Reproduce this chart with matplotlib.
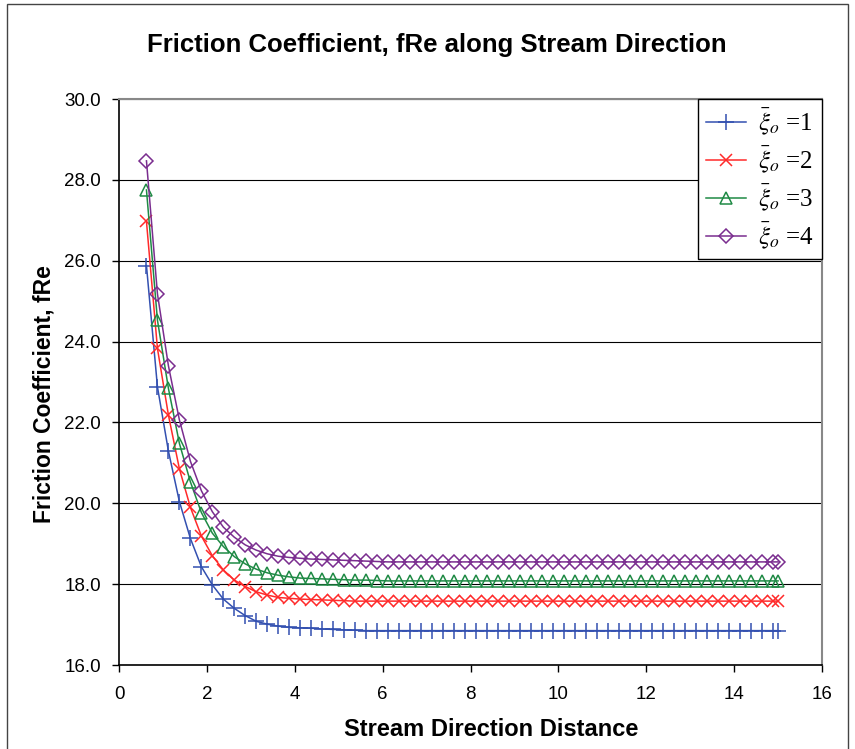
import matplotlib
matplotlib.use("Agg")
import matplotlib.pyplot as plt
from matplotlib.patches import Rectangle

#Data
distance = [0.625, 0.875, 1.125, 1.375, 1.625, 1.875, 2.125, 2.375, 2.625, 2.875,
            3.125, 3.375, 3.625, 3.875, 4.125, 4.375, 4.625, 4.875, 5.125, 5.375,
            5.625, 5.875, 6.125, 6.375, 6.625, 6.875, 7.125, 7.375, 7.625, 7.875,
            8.125, 8.375, 8.625, 8.875, 9.125, 9.375, 9.625, 9.875, 10.125, 10.375,
            10.625, 10.875, 11.125, 11.375, 11.625, 11.875, 12.125, 12.375, 12.625, 12.875,
            13.125, 13.375, 13.625, 13.875, 14.125, 14.375, 14.625, 14.875, 15.0]

fre_xi1 = [25.88, 22.88, 21.29, 20.04, 19.13, 18.43, 17.98, 17.63, 17.40, 17.22,
           17.08, 17.01, 16.96, 16.93, 16.92, 16.91, 16.89, 16.88, 16.87, 16.86,
           16.85, 16.85, 16.85, 16.85, 16.85, 16.85, 16.85, 16.85, 16.85, 16.85,
           16.85, 16.85, 16.85, 16.85, 16.85, 16.85, 16.85, 16.85, 16.85, 16.85,
           16.85, 16.85, 16.85, 16.85, 16.85, 16.85, 16.85, 16.85, 16.85, 16.85,
           16.85, 16.85, 16.85, 16.85, 16.85, 16.85, 16.85, 16.85, 16.85]

fre_xi2 = [26.97, 23.83, 22.18, 20.85, 19.90, 19.19, 18.70, 18.35, 18.10, 17.94,
           17.81, 17.73, 17.67, 17.65, 17.63, 17.62, 17.61, 17.60, 17.59, 17.58,
           17.58, 17.58, 17.58, 17.58, 17.58, 17.58, 17.58, 17.58, 17.58, 17.58,
           17.58, 17.58, 17.58, 17.58, 17.58, 17.58, 17.58, 17.58, 17.58, 17.58,
           17.58, 17.58, 17.58, 17.58, 17.58, 17.58, 17.58, 17.58, 17.58, 17.58,
           17.58, 17.58, 17.58, 17.58, 17.58, 17.58, 17.58, 17.58, 17.58]

fre_xi3 = [27.75, 24.53, 22.84, 21.48, 20.53, 19.77, 19.26, 18.93, 18.68, 18.50,
           18.37, 18.28, 18.22, 18.18, 18.15, 18.14, 18.13, 18.12, 18.11, 18.10,
           18.10, 18.09, 18.08, 18.08, 18.08, 18.08, 18.08, 18.08, 18.08, 18.08,
           18.08, 18.08, 18.08, 18.08, 18.08, 18.08, 18.08, 18.08, 18.08, 18.08,
           18.08, 18.08, 18.08, 18.08, 18.08, 18.08, 18.08, 18.08, 18.08, 18.08,
           18.08, 18.08, 18.08, 18.08, 18.08, 18.08, 18.08, 18.08, 18.08]

fre_xi4 = [28.47, 25.18, 23.40, 22.06, 21.04, 20.31, 19.79, 19.41, 19.16, 18.97,
           18.84, 18.75, 18.69, 18.66, 18.64, 18.62, 18.61, 18.60, 18.59, 18.58,
           18.57, 18.56, 18.55, 18.55, 18.55, 18.55, 18.55, 18.55, 18.55, 18.55,
           18.55, 18.55, 18.55, 18.55, 18.55, 18.55, 18.55, 18.55, 18.55, 18.55,
           18.55, 18.55, 18.55, 18.55, 18.55, 18.55, 18.55, 18.55, 18.55, 18.55,
           18.55, 18.55, 18.55, 18.55, 18.55, 18.55, 18.55, 18.55, 18.55]

seriesNames = [r"$\bar{\xi}_o$ =1", r"$\bar{\xi}_o$ =2", r"$\bar{\xi}_o$ =3", r"$\bar{\xi}_o$ =4"]
yTicks = [16.0, 18.0, 20.0, 22.0, 24.0, 26.0, 28.0, 30.0]
xTicks = [0, 2, 4, 6, 8, 10, 12, 14, 16]

plt.rcParams['font.family'] = ['Liberation Sans', 'DejaVu Sans']
plt.rcParams['mathtext.fontset'] = 'stix'

fig = plt.figure(figsize=(8.55, 7.49), dpi=100)
ax = fig.add_axes([119/855, 1 - 665/749, (822 - 119)/855, (665 - 99)/749])

#outer chart border
fig.patches.append(Rectangle((7/855, -0.02), (848 - 7)/855, 1 - 4/749 + 0.02,
                             transform=fig.transFigure, fill=False,
                             edgecolor='#444444', linewidth=1.0, zorder=0))

ax.plot(distance, fre_xi1, color='#3350b0', marker='+', markersize=11,
        markeredgewidth=1.1, linewidth=1.1, label=seriesNames[0])
ax.plot(distance, fre_xi2, color='#ff2a2a', marker='x', markersize=8,
        markeredgewidth=1.1, linewidth=1.1, label=seriesNames[1])
ax.plot(distance, fre_xi3, color='#1f8a45', marker='^', markersize=9,
        markerfacecolor='none', markeredgewidth=1.1, linewidth=1.1, label=seriesNames[2])
ax.plot(distance, fre_xi4, color='#7a2d8f', marker='D', markersize=7.5,
        markerfacecolor='none', markeredgewidth=1.1, linewidth=1.1, label=seriesNames[3])

ax.set_xlim(0, 16)
ax.set_ylim(16, 30)
ax.set_xticks(xTicks)
ax.set_yticks(yTicks)
ax.set_yticklabels(["%.1f" % v for v in yTicks])
ax.tick_params(direction='out', length=5, width=1, labelsize=13.5)
ax.tick_params(axis='x', pad=10)
ax.tick_params(axis='y', pad=8)
ax.yaxis.grid(True, color='black', linewidth=0.8)
ax.set_axisbelow(True)

for side in ('top', 'right'):
    ax.spines[side].set_color('#888888')
    ax.spines[side].set_linewidth(1.5)
for side in ('left', 'bottom'):
    ax.spines[side].set_color('black')
    ax.spines[side].set_linewidth(1.2)

#title centred on the whole chart area, not the plot
fig.text(437/855, 1 - 45/749, "Friction Coefficient, fRe along Stream Direction",
         fontsize=18.5, fontweight='bold', ha='center', va='center')
ax.set_xlabel("Stream Direction Distance", fontsize=17, fontweight='bold', labelpad=11)
ax.xaxis.label.set_x((491 - 119)/703)
ax.set_ylabel("Friction Coefficient, fRe", fontsize=16.5, fontweight='bold', labelpad=6)
ax.yaxis.label.set_y(1 - (394 - 99)/566)

leg = ax.legend(loc='upper right', bbox_to_anchor=(1.0, 1.0), fancybox=False,
                framealpha=1, edgecolor='black', borderaxespad=0,
                prop={'family': 'Liberation Serif', 'size': 18},
                handlelength=1.6, handletextpad=0.5, labelspacing=0.3,
                borderpad=0.3)
leg.get_frame().set_linewidth(1.0)

fig.savefig("out.png", dpi=100)
